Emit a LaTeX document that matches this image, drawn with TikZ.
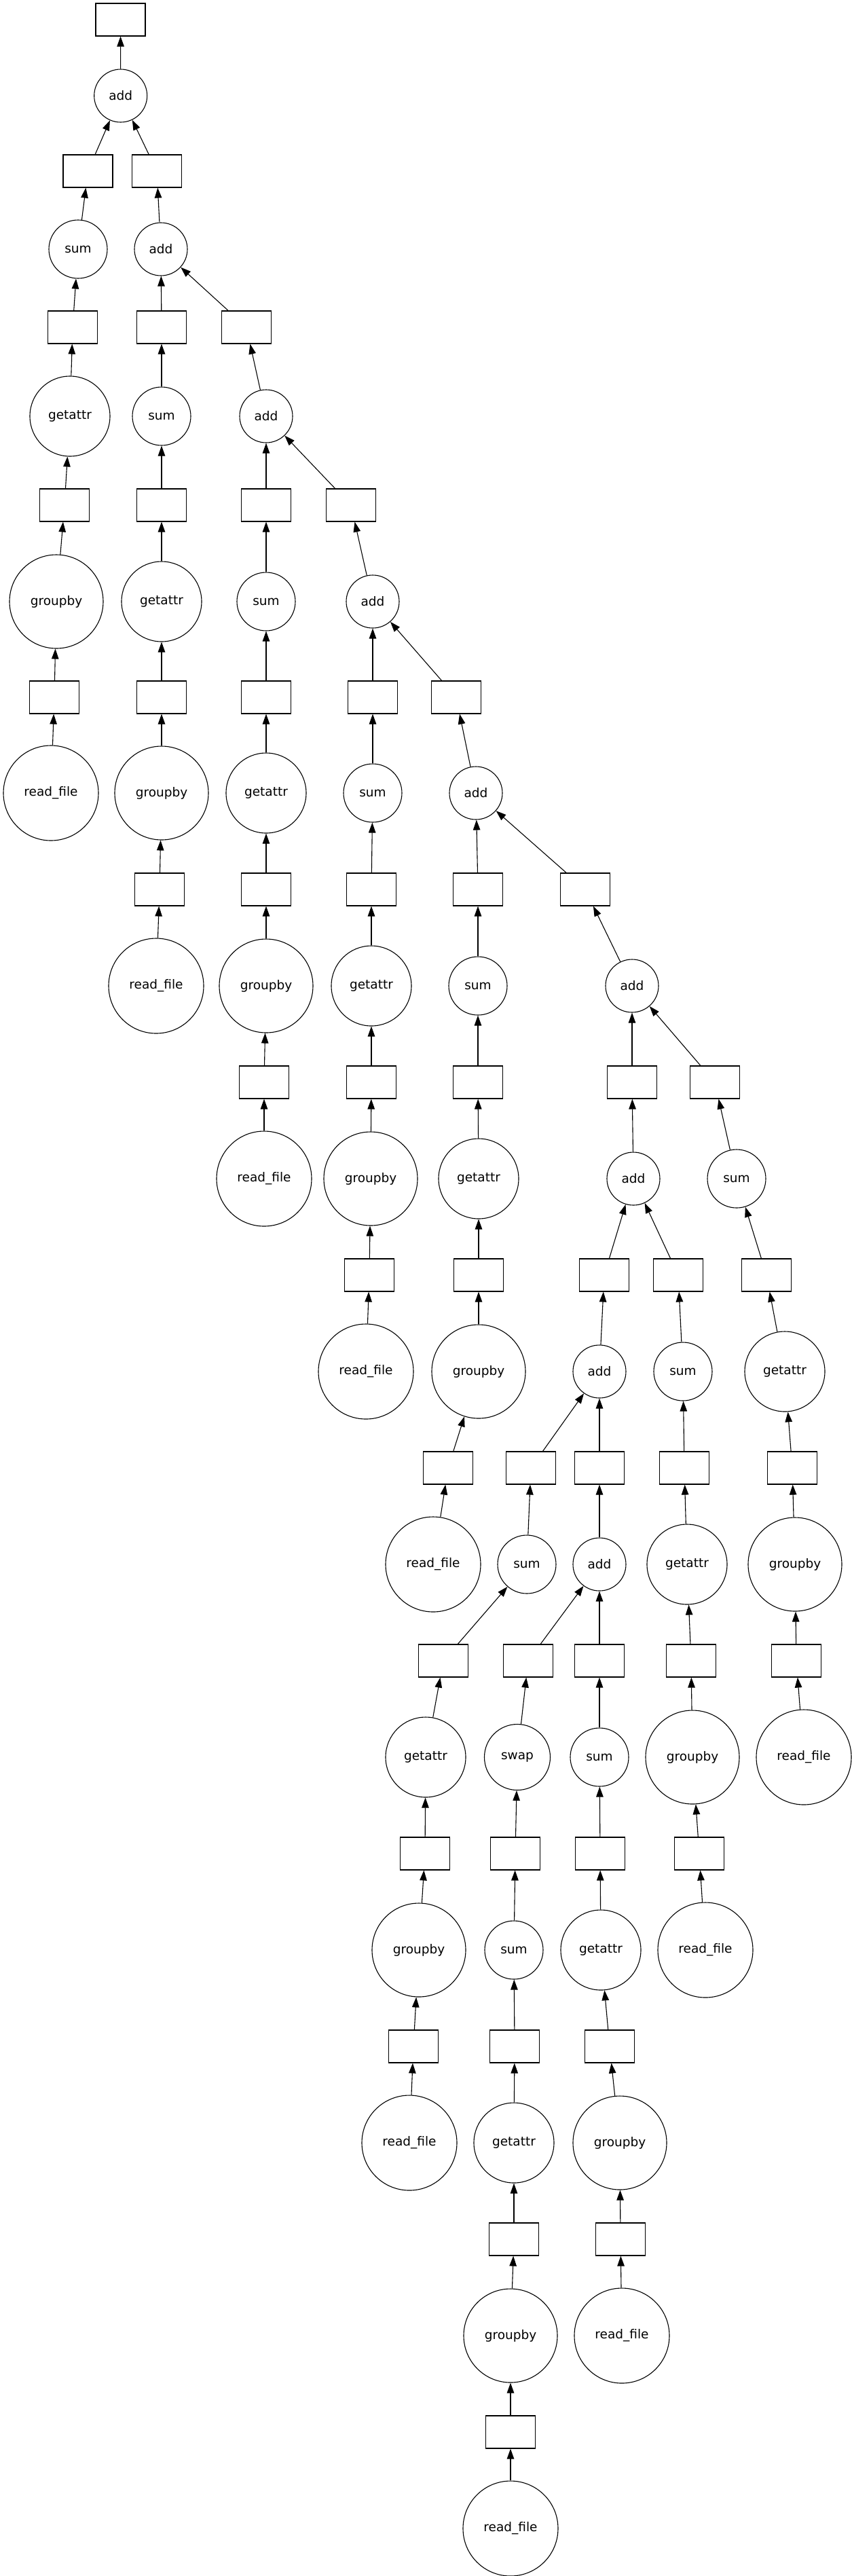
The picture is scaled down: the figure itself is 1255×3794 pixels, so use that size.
\documentclass[tikz,border=0pt]{standalone}
\usepackage{fontspec}
\setmainfont{DejaVu Sans}
\usetikzlibrary{arrows.meta}

\tikzset{
  chunk/.style={draw, line width=1.1pt, minimum width=73pt, minimum height=48pt, inner sep=0pt},
  task/.style={circle, draw, line width=1.1pt, inner sep=0pt, font=\fontsize{18.5}{22}\selectfont},
  dep/.style={line width=1.1pt, -{Triangle[length=15pt,width=10.5pt]}}
}

\begin{document}
\begin{tikzpicture}[x=1pt, y=-1pt]
  \useasboundingbox (0,0) rectangle (1255,3794);
  % data chunks
  \foreach \nm/\x/\y in {b0a/177.5/29,
      b2a/129.5/252, b2b/231/252,
      b4a/107/482, b4b/238/482, b4c/363/482,
      b6a/95/744, b6b/238/744, b6c/392/744, b6d/517/744,
      b8a/80/1027, b8b/238/1027, b8c/392/1027, b8d/549/1027, b8e/672/1027,
      b10a/235/1310, b10b/392/1310, b10c/547/1310, b10d/704/1310, b10e/862/1310,
      b12a/389/1594, b12b/547/1594, b12c/704/1594, b12d/931/1594, b12e/1053/1594,
      b14a/544/1878, b14b/705/1878, b14c/890/1878, b14d/999/1878, b14e/1129/1878,
      b16a/660/2162, b16b/782/2162, b16c/883/2162, b16d/1008/2162, b16e/1167/2162,
      b18a/653/2446, b18b/778/2446, b18c/883/2446, b18d/1018/2446, b18e/1173/2446,
      b20a/626/2730, b20b/759/2730, b20c/884/2730, b20d/1030/2730,
      b22a/609/3014, b22b/758/3014, b22c/898/3014,
      b24a/757/3298, b24b/914/3298,
      b26a/752/3582}{
    \node[chunk] (\nm) at (\x,\y) {};
  }
  % tasks
  \foreach \nm/\x/\y/\sz/\lbl in {f1a/177.7/141/78/add,
      f3a/115/367/86/sum, f3b/237/367/78/add,
      f5a/103/613/118/getattr, f5b/238/613/86/sum, f5c/392/613/78/add,
      f7a/83/886/138/groupby, f7b/238/886/118/getattr, f7c/392/886/86/sum, f7d/549/886/78/add,
      f9a/75/1168/140/read\_file, f9b/238/1168/138/groupby, f9c/392/1168/118/getattr,
      f9d/549/1168/86/sum, f9e/701/1168/78/add,
      f11a/230/1452/140/read\_file, f11b/392/1452/138/groupby, f11c/547/1452/118/getattr,
      f11d/704/1452/86/sum, f11e/931/1452/78/add,
      f13a/389/1736/140/read\_file, f13b/546/1736/138/groupby, f13c/705/1736/118/getattr,
      f13d/933/1736/78/add, f13e/1085/1736/86/sum,
      f15a/539/2020/140/read\_file, f15b/705/2020/138/groupby, f15c/883/2020/78/add,
      f15d/1006/2020/86/sum, f15e/1156/2020/118/getattr,
      f17a/638/2304/140/read\_file, f17b/776/2304/86/sum, f17c/883/2304/78/add,
      f17d/1012/2304/118/getattr, f17e/1171/2304/138/groupby,
      f19a/627/2588/118/getattr, f19b/762/2588/97/swap, f19c/883/2588/86/sum,
      f19d/1020/2588/138/groupby, f19e/1184/2588/140/read\_file,
      f21a/617/2872/138/groupby, f21b/757/2872/86/sum, f21c/885/2872/118/getattr,
      f21d/1039/2872/140/read\_file,
      f23a/603/3156/140/read\_file, f23b/757/3156/118/getattr, f23c/913/3156/138/groupby,
      f25a/752/3440/138/groupby, f25b/916/3440/140/read\_file,
      f27a/752/3724/140/read\_file}{
    \node[task, minimum size=\sz pt] (\nm) at (\x,\y) {\lbl};
  }
  % dependencies
  \foreach \a/\b in {f1a/b0a, b2a/f1a, b2b/f1a, f3a/b2a, f3b/b2b,
      b4a/f3a, b4b/f3b, b4c/f3b, f5a/b4a, f5b/b4b, f5c/b4c,
      b6a/f5a, b6b/f5b, b6c/f5c, b6d/f5c, f7a/b6a, f7b/b6b, f7c/b6c, f7d/b6d,
      b8a/f7a, b8b/f7b, b8c/f7c, b8d/f7d, b8e/f7d,
      f9a/b8a, f9b/b8b, f9c/b8c, f9d/b8d, f9e/b8e,
      b10a/f9b, b10b/f9c, b10c/f9d, b10d/f9e, b10e/f9e,
      f11a/b10a, f11b/b10b, f11c/b10c, f11d/b10d, f11e/b10e,
      b12a/f11b, b12b/f11c, b12c/f11d, b12d/f11e, b12e/f11e,
      f13a/b12a, f13b/b12b, f13c/b12c, f13d/b12d, f13e/b12e,
      b14a/f13b, b14b/f13c, b14c/f13d, b14d/f13d, b14e/f13e,
      f15a/b14a, f15b/b14b, f15c/b14c, f15d/b14d, f15e/b14e,
      b16a/f15b, b16b/f15c, b16c/f15c, b16d/f15d, b16e/f15e,
      f17a/b16a, f17b/b16b, f17c/b16c, f17d/b16d, f17e/b16e,
      b18a/f17b, b18b/f17c, b18c/f17c, b18d/f17d, b18e/f17e,
      f19a/b18a, f19b/b18b, f19c/b18c, f19d/b18d, f19e/b18e,
      b20a/f19a, b20b/f19b, b20c/f19c, b20d/f19d,
      f21a/b20a, f21b/b20b, f21c/b20c, f21d/b20d,
      b22a/f21a, b22b/f21b, b22c/f21c,
      f23a/b22a, f23b/b22b, f23c/b22c,
      b24a/f23b, b24b/f23c, f25a/b24a, f25b/b24b,
      b26a/f25a, f27a/b26a}{
    \draw[dep] (\a) -- (\b);
  }
\end{tikzpicture}
\end{document}
